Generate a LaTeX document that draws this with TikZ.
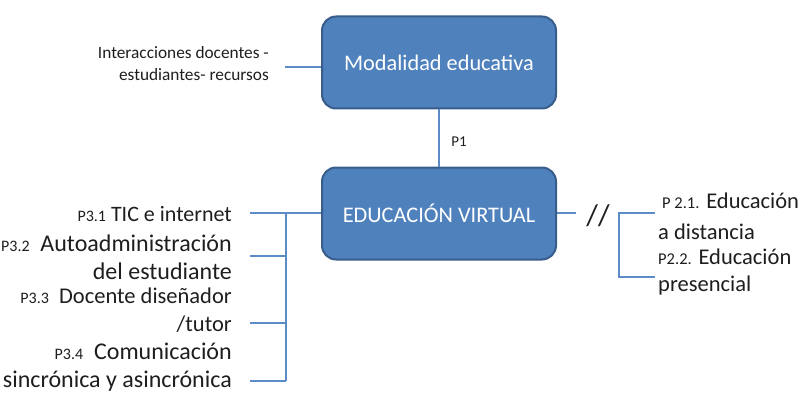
\documentclass[tikz,border=0pt]{standalone}
\usepackage{fontspec}
\setmainfont{Carlito}
\definecolor{boxblue}{HTML}{4F81BD}
\definecolor{boxedge}{HTML}{385D8A}
\definecolor{linkblue}{HTML}{5B8CC8}
\definecolor{ink}{HTML}{1E1E1E}
\tikzset{
  mainbox/.style={draw=boxedge, line width=2pt, fill=boxblue, rounded corners=14pt,
    minimum width=234pt, minimum height=92pt, text=white, font=\fontsize{22.3}{26}\selectfont},
  link/.style={draw=linkblue, line width=1.1pt},
  leftlab/.style={anchor=east, align=right, text=ink, inner sep=0pt},
  rightlab/.style={anchor=west, align=left, text=ink, inner sep=0pt, font=\fontsize{22.5}{27}\selectfont},
}
\newcommand{\fs}[2]{\fontsize{#1}{#2}\selectfont}
\newcommand{\pnum}[1]{{\fontsize{16}{18}\selectfont #1}}
\begin{document}
\begin{tikzpicture}[x=1pt, y=-1pt, node distance=151pt]
  \useasboundingbox (0,0) rectangle (805,401);
  % central boxes
  \node(Modalidad) [mainbox] at (439,62.5) {Modalidad educativa};
  \node(Virtual)   [mainbox, below of=Modalidad] {EDUCACIÓN VIRTUAL};
  \node(P1) [text=ink, font=\fs{15}{17}] at (459,142) {P1};
  \draw[link] (Modalidad) -- (Virtual);
  % upper left label
  \node(Interacciones) [leftlab, font=\fs{17.3}{22}] at (269,64)
    {Interacciones docentes -\\estudiantes- recursos};
  \coordinate(ml) at (285,67);
  \draw[link] (ml) -- (ml -| Modalidad.west);
  % left branch
  \node(TIC)     [leftlab, font=\fs{22}{28}] at (232,214) {\pnum{P3.1} TIC e internet};
  \node(Auto)    [leftlab, font=\fs{24}{28}] at (232,257) {\pnum{P3.2}\ \ Autoadministración\\del estudiante};
  \node(Docente) [leftlab, font=\fs{22.5}{28}] at (232,310) {\pnum{P3.3}\ \ Docente diseñador\\/tutor};
  \node(Comunic) [leftlab, font=\fs{24}{28}] at (232,367) {\pnum{P3.4}\ \ Comunicación\\sincrónica y asincrónica};
  \coordinate(p31) at (250,213);
  \coordinate(p32) at (250,256);
  \coordinate(p33) at (250,323);
  \coordinate(p34) at (250,381);
  \coordinate(bus) at (286,213);
  \draw[link] (p31) -- (p31 -| Virtual.west);
  \draw[link] (bus) -- (bus |- p34);
  \draw[link] (p32) -- (p32 -| bus);
  \draw[link] (p33) -- (p33 -| bus);
  \draw[link] (p34) -- (p34 -| bus);
  % right branch
  \coordinate(vr) at (576,213);
  \draw[link] (Virtual.east |- vr) -- (vr);
  \node(Slash) [text=ink, font=\fs{30}{32}] at (598,216) {//};
  \coordinate(b1) at (619,213);
  \coordinate(b2) at (619,277);
  \draw[link] (655,213) -- (b1) -- (b2) -- (655,277);
  \node(Distancia)  [rightlab] at (658,216) {\hspace*{4pt}{\fs{16.5}{19}P 2.1.} Educación\\[4pt]a distancia};
  \node(Presencial) [rightlab] at (658,272) {{\fs{16.5}{19}P2.2.} Educación\\presencial};
\end{tikzpicture}
\end{document}
